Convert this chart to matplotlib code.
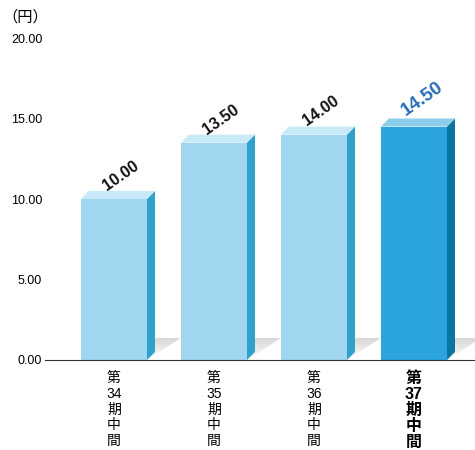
import matplotlib
matplotlib.use('Agg')
import matplotlib.pyplot as plt
import numpy as np
from matplotlib.patches import Polygon

periods = ['34', '35', '36', '37']
values = [10.00, 13.50, 14.00, 14.50]
value_labels = ['10.00', '13.50', '14.00', '14.50']
yticks = [0, 5, 10, 15, 20]

plt.rcParams['font.family'] = ['Liberation Sans', 'Noto Sans CJK JP']

fig = plt.figure(figsize=(4.75, 4.5), dpi=100)
ax = fig.add_axes([45 / 475, 0.2, 430 / 475, (360 - 38) / 450])

x = list(range(len(values)))
width = 0.66
dx = 0.08   # depth in x (data units)
dy = 0.5    # depth in y (data units)

front = ['#a0d6f0', '#a0d6f0', '#a0d6f0', '#2ba3dc']
side = ['#2fa2cc', '#2fa2cc', '#2fa2cc', '#0a76a0']
top = ['#c8eaf8', '#c8eaf8', '#c8eaf8', '#8ccdea']

# vertical gray gradient used for the floor shadows
grad = np.linspace(0, 1, 64).reshape(-1, 1)
shadow_cmap = matplotlib.colors.LinearSegmentedColormap.from_list('sh', ['#ffffff', '#d6d6d6'])

for i, v in enumerate(values):
    r = x[i] + width / 2
    l = x[i] - width / 2
    # floor shadow (triangle with gradient)
    tri = Polygon([[r, 0], [r + 0.34, 1.37], [r + 0.08, 1.37]], closed=True,
                  facecolor='none', edgecolor='none', transform=ax.transData)
    ax.add_patch(tri)
    im = ax.imshow(grad, cmap=shadow_cmap, extent=[r, r + 0.34, 1.37, 0], aspect='auto',
                   zorder=1, interpolation='bilinear')
    im.set_clip_path(tri)
    ax.bar(x[i], v, width=width, color=front[i], zorder=3)
    ax.add_patch(Polygon([[r, 0], [r + dx, dy], [r + dx, v + dy], [r, v]],
                         closed=True, facecolor=side[i], edgecolor='none', zorder=3))
    ax.add_patch(Polygon([[l, v], [l + dx, v + dy], [r + dx, v + dy], [r, v]],
                         closed=True, facecolor=top[i], edgecolor='none', zorder=3))
    if i == len(values) - 1:
        ax.text(x[i] + 0.08, v + 1.7, value_labels[i], rotation=35, ha='center', va='center',
                fontsize=13.5, fontweight='bold', color='#2a6fba', rotation_mode='anchor')
    else:
        ax.text(x[i] + 0.07, v + 1.45, value_labels[i], rotation=35, ha='center', va='center',
                fontsize=11.5, fontweight='bold', color='#111111', rotation_mode='anchor')

ax.set_xlim(-0.69, 3.61)
ax.set_ylim(0, 20)
ax.set_yticks(yticks)
ax.set_yticklabels(['%.2f' % t for t in yticks], fontsize=9)
ax.tick_params(axis='y', length=0, pad=2)

ax.set_xticks(x)
labels = ['第\n%s\n期\n中\n間' % p for p in periods]
ax.set_xticklabels(labels, fontsize=10, linespacing=1.15)
for j, t in enumerate(ax.get_xticklabels()):
    if j == len(periods) - 1:
        t.set_fontweight('bold')
        t.set_fontsize(11.5)
        t.set_linespacing(1.08)
ax.tick_params(axis='x', length=0, pad=8)

for s in ['top', 'right', 'left']:
    ax.spines[s].set_visible(False)
ax.spines['bottom'].set_color('#333333')
ax.spines['bottom'].set_zorder(5)

fig.text(2 / 475, 1 - 17 / 450, '（円）', fontsize=11, va='center', ha='left',
         family=['Noto Sans CJK JP'])

plt.savefig('out.png', dpi=100)
